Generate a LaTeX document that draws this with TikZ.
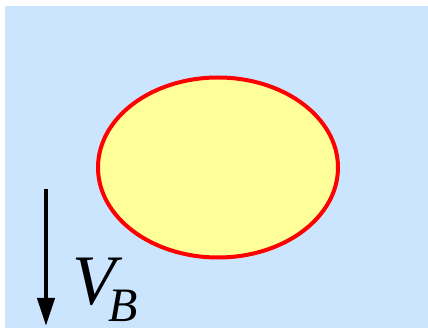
\documentclass[tikz,border=0pt]{standalone}
\usepackage{fontspec}
\setmainfont{Liberation Serif}
\usetikzlibrary{arrows.meta}
\definecolor{bgblue}{RGB}{204,229,255}
\definecolor{yel}{RGB}{255,255,153}
\definecolor{redline}{RGB}{255,0,0}
\tikzset{
  vlabel/.style={anchor=base west, inner sep=0pt, font=\fontsize{71}{71}\selectfont\itshape},
  sublabel/.style={anchor=base west, inner sep=0pt, font=\fontsize{48}{48}\selectfont\itshape},
  velarrow/.style={line width=4pt, -{Triangle[length=28pt,width=17pt]}}
}
\begin{document}
\begin{tikzpicture}[x=1pt,y=1pt]
\useasboundingbox (0,0) rectangle (428,-328);
\fill[bgblue] (5,-6) rectangle (428,-328);
\draw[redline, fill=yel, line width=4pt] (218,-167.5) ellipse [x radius=120, y radius=90];
\coordinate (a1) at (46,-189);
\coordinate (a2) at (46,-326);
\draw[velarrow] (a1) -- (a2);
\node[vlabel] (v) at (72,-305) {V};
\node[sublabel] (b) at (108,-322) {B};
\end{tikzpicture}
\end{document}
